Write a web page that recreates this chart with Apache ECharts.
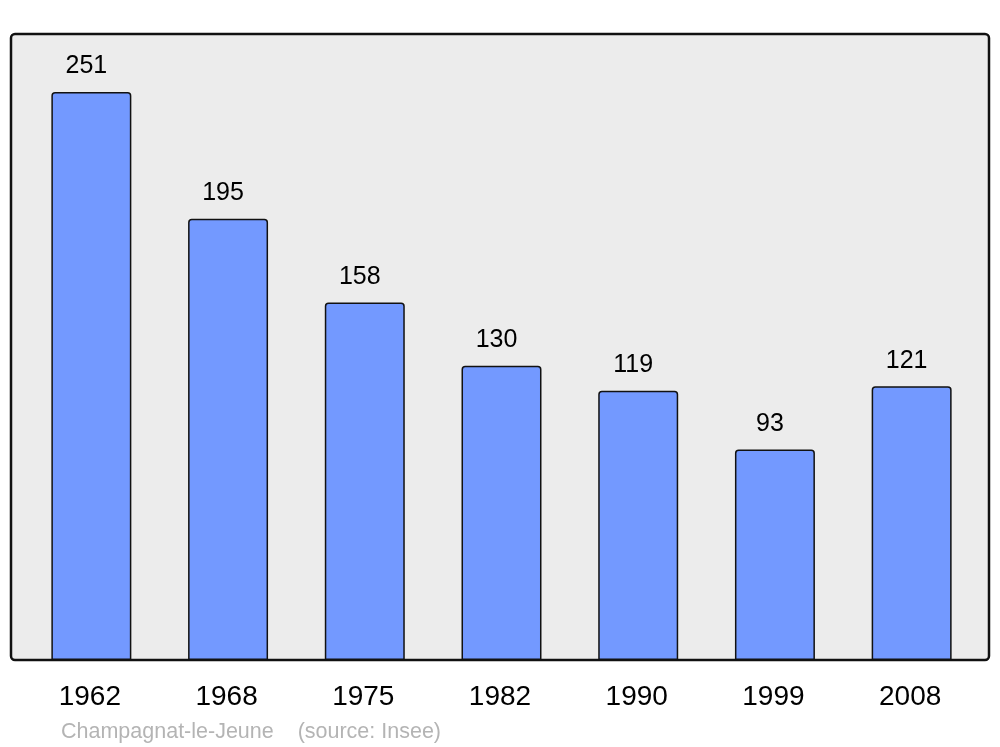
<!DOCTYPE html>
<html>
<head>
<meta charset="utf-8">
<script src="https://cdn.jsdelivr.net/npm/echarts@6/dist/echarts.min.js"></script>
<style>
html,body{margin:0;padding:0;background:#fff;}
#c{width:1000px;height:747px;}
</style>
</head>
<body>
<div id="c"></div>
<script>
const years = ['1962','1968','1975','1982','1990','1999','2008'];
const population = [251,195,158,130,119,93,121];
const footerText = 'Champagnat-le-Jeune    (source: Insee)';

const chart = echarts.init(document.getElementById('c'), null, {renderer:'canvas'});
chart.setOption({
  animation:false,
  backgroundColor:'#ffffff',
  graphic:[
    {type:'rect', z:-10, shape:{x:11,y:34,width:978,height:626,r:4},
     style:{fill:'#ececec', stroke:'#111', lineWidth:2.5}},
    {type:'text', left:61, top:721,
     style:{text:footerText, fill:'#b4b4b4', font:'21.5px "Liberation Sans", Arial, sans-serif'}}
  ],
  grid:{left:23, right:20, top:34, bottom:87, containLabel:false},
  xAxis:{
    type:'category', data:years,
    axisLine:{show:false}, axisTick:{show:false},
    axisLabel:{color:'#000', fontSize:28, fontFamily:'"Liberation Sans", Arial, sans-serif', margin:23,
      padding:[0,3,0,0]}
  },
  yAxis:{type:'value', min:0, max:276.6, show:false, splitLine:{show:false}},
  series:[{
    type:'bar', data:population, barWidth:'58.5%',
    itemStyle:{color:'#7399ff', borderColor:'#111', borderWidth:1.5, borderRadius:[3,3,0,0]},
    label:{show:true, position:'top', distance:13, offset:[-5,0], color:'#000',
      fontSize:25, fontFamily:'"Liberation Sans", Arial, sans-serif'}
  }]
});
</script>
</body>
</html>
